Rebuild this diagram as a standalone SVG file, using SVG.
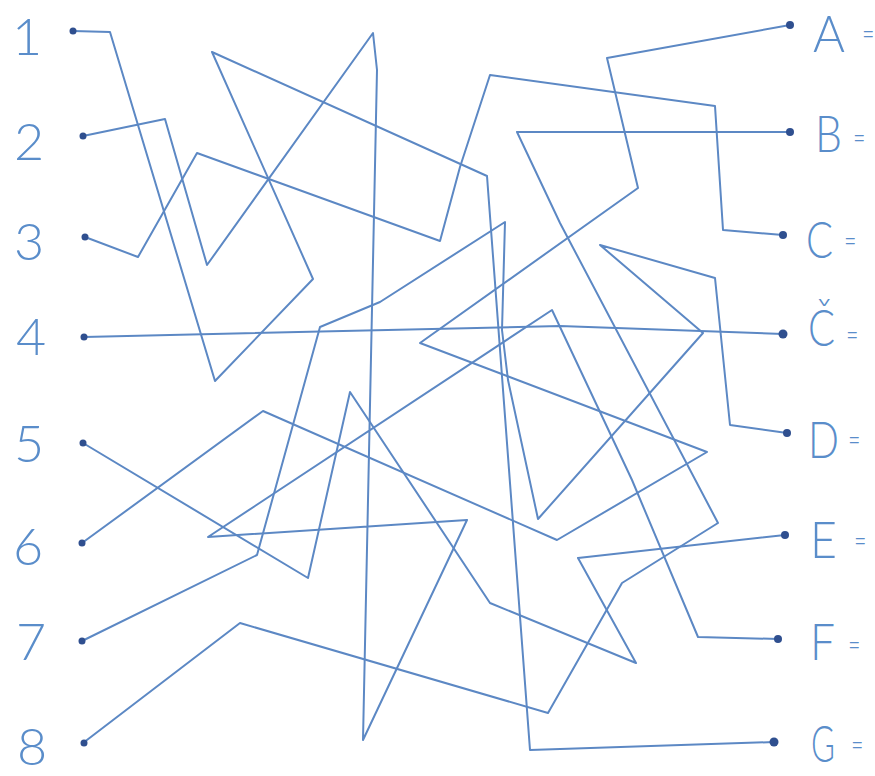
<svg xmlns="http://www.w3.org/2000/svg" width="875" height="776" viewBox="0 0 875 776">
<style>
.c{fill:none;stroke:#5c88c4;stroke-width:2;stroke-linejoin:round;stroke-linecap:round}
.d{fill:#2f4f8f}
.t{font-family:"Lato","Liberation Sans",sans-serif;font-weight:300;fill:#5a8dca;font-size:52px}
.e{font-family:"Liberation Sans",sans-serif;fill:#5a8dca;font-size:18px}
</style>
<rect width="875" height="776" fill="#ffffff"/>
<g id="connectors">
<path class="c" d="M73,31 L110,32 L215,381 L313,279 L212,52 L487,176 L530,750 L774,742"/>
<path class="c" d="M83,136 L165,119 L207,265 L373,33 L377,70 L363,740 L467,520 L208,537 L552,310 L632,480 L698,637 L778,639"/>
<path class="c" d="M85,237 L138,257 L197,153 L440,241 L460,167 L490,75 L715,106 L723,230 L783,235"/>
<path class="c" d="M84,337 L560,326 L783,334"/>
<path class="c" d="M83,443 L308,578 L350,392 L490,603 L636,663 L578,558 L785,535"/>
<path class="c" d="M82,543 L263,411 L557,540 L707,452 L420,343 L638,188 L607,58 L790,25"/>
<path class="c" d="M82,641 L257,555 L320,327 L380,302 L505,222 L502,330 L508,380 L538,519 L703,333 L600,245 L715,278 L730,425 L787,433"/>
<path class="c" d="M83,743 L240,623 L548,713 L622,583 L718,523 L560,223 L517,132 L790,132"/>
</g>
<g id="n1"><text class="t" x="12" y="55">1</text><circle class="d" cx="73" cy="31" r="3.5"/></g>
<g id="n2"><text class="t" x="14" y="160">2</text><circle class="d" cx="83" cy="136" r="3.5"/></g>
<g id="n3"><text class="t" x="14" y="260">3</text><circle class="d" cx="85" cy="237" r="3.5"/></g>
<g id="n4"><text class="t" x="16" y="355">4</text><circle class="d" cx="84" cy="337" r="3.5"/></g>
<g id="n5"><text class="t" x="14" y="462">5</text><circle class="d" cx="83" cy="443" r="3.5"/></g>
<g id="n6"><text class="t" x="13" y="565">6</text><circle class="d" cx="82" cy="543" r="3.5"/></g>
<g id="n7"><text class="t" x="16" y="660">7</text><circle class="d" cx="82" cy="641" r="3.5"/></g>
<g id="n8"><text class="t" x="17" y="765">8</text><circle class="d" cx="84" cy="743" r="3.5"/></g>
<g id="nA"><circle class="d" cx="790" cy="25" r="4"/><text class="t" x="813" y="52" textLength="32" lengthAdjust="spacingAndGlyphs">A</text><text class="e" x="863" y="40">=</text></g>
<g id="nB"><circle class="d" cx="790" cy="132" r="4"/><text class="t" x="815" y="152" textLength="27" lengthAdjust="spacingAndGlyphs">B</text><text class="e" x="854" y="144">=</text></g>
<g id="nC"><circle class="d" cx="783" cy="235" r="4"/><text class="t" x="806" y="258" textLength="27" lengthAdjust="spacingAndGlyphs">C</text><text class="e" x="845" y="247">=</text></g>
<g id="nCC"><circle class="d" cx="783" cy="334" r="4.5"/><text class="t" x="808" y="346" textLength="27" lengthAdjust="spacingAndGlyphs">Č</text><text class="e" x="847" y="341">=</text></g>
<g id="nD"><circle class="d" cx="787" cy="433" r="4"/><text class="t" x="808" y="458" textLength="31" lengthAdjust="spacingAndGlyphs">D</text><text class="e" x="849" y="446">=</text></g>
<g id="nE"><circle class="d" cx="785" cy="535" r="4"/><text class="t" x="810" y="558" textLength="27" lengthAdjust="spacingAndGlyphs">E</text><text class="e" x="855" y="547">=</text></g>
<g id="nF"><circle class="d" cx="778" cy="639" r="4"/><text class="t" x="810" y="660" textLength="25" lengthAdjust="spacingAndGlyphs">F</text><text class="e" x="849" y="651">=</text></g>
<g id="nG"><circle class="d" cx="774" cy="742" r="4.5"/><text class="t" x="811" y="762" textLength="24" lengthAdjust="spacingAndGlyphs">G</text><text class="e" x="852" y="751">=</text></g>
</svg>
